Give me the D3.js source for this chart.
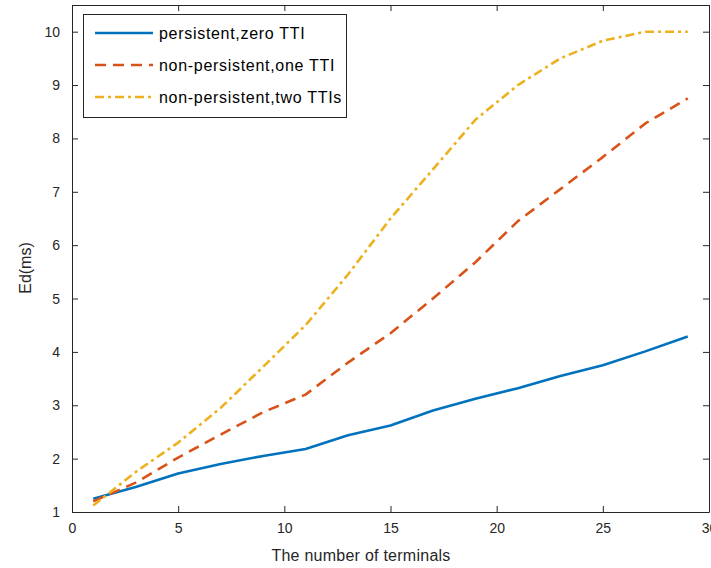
<!DOCTYPE html>
<html>
<head>
<meta charset="utf-8">
<script src="https://cdn.jsdelivr.net/npm/d3@7/dist/d3.min.js"></script>
<style>
  html, body { margin: 0; padding: 0; background: #fff; }
  svg { display: block; font-family: "Liberation Sans", Arial, sans-serif; }
</style>
</head>
<body>
<svg id="chart" width="711" height="568"></svg>
<script>
// Number of terminals (x) and end-to-end delay in ms for each scheme
const terminals = [1, 3, 5, 7, 9, 11, 13, 15, 17, 19, 21, 23, 25, 27, 29];
const persistentZero = [1.25, 1.47, 1.72, 1.90, 2.05, 2.18, 2.44, 2.62, 2.90, 3.12, 3.32, 3.55, 3.75, 4.01, 4.29];
const nonPersistentOne = [1.20, 1.55, 2.02, 2.45, 2.87, 3.20, 3.80, 4.35, 5.00, 5.68, 6.45, 7.05, 7.65, 8.28, 8.75];
const nonPersistentTwo = [1.12, 1.75, 2.30, 2.95, 3.72, 4.50, 5.45, 6.50, 7.42, 8.35, 9.00, 9.50, 9.83, 10.0, 10.0];
const seriesNames = ["persistent,zero TTI", "non-persistent,one TTI", "non-persistent,two TTIs"];
const xTicks = [0, 5, 10, 15, 20, 25, 30];
const yTicks = [1, 2, 3, 4, 5, 6, 7, 8, 9, 10];

const svg = d3.select("#chart");
const plot = { left: 72, right: 709, top: 5, bottom: 512 };
const axisColor = "#262626";

const x = d3.scaleLinear().domain([0, 30]).range([plot.left, plot.right]);
const y = d3.scaleLinear().domain([1, 10.5]).range([plot.bottom, plot.top]);

const series = [
  { name: seriesNames[0], values: persistentZero, color: "#0072BD", dash: null },
  { name: seriesNames[1], values: nonPersistentOne, color: "#D95319", dash: "11,7" },
  { name: seriesNames[2], values: nonPersistentTwo, color: "#EDB120", dash: "9,4,3,4" }
];

// Lines
const line = d3.line().x((d, i) => x(terminals[i])).y(d => y(d));
series.forEach(s => {
  svg.append("path")
    .datum(s.values)
    .attr("d", line)
    .attr("fill", "none")
    .attr("stroke", s.color)
    .attr("stroke-width", 2.6)
    .attr("stroke-dasharray", s.dash)
    .attr("stroke-linejoin", "round");
});

// Axes (ticks inward, box on all sides)
const tickLen = 6;
function styleAxis(g) {
  g.selectAll("path").attr("stroke", axisColor).attr("stroke-width", 1);
  g.selectAll("line").attr("stroke", axisColor).attr("stroke-width", 1);
  g.selectAll("text").attr("fill", axisColor).attr("font-size", 14)
    .attr("font-family", "'Liberation Sans', Arial, sans-serif");
}
svg.append("g").attr("transform", `translate(0,${plot.bottom})`)
  .call(d3.axisBottom(x).tickValues(xTicks).tickSizeInner(-tickLen).tickSizeOuter(0).tickPadding(11))
  .call(styleAxis);
svg.append("g").attr("transform", `translate(0,${plot.top})`)
  .call(d3.axisTop(x).tickValues(xTicks).tickSizeInner(-tickLen).tickSizeOuter(0).tickFormat(""))
  .call(styleAxis);
svg.append("g").attr("transform", `translate(${plot.left},0)`)
  .call(d3.axisLeft(y).tickValues(yTicks).tickSizeInner(-tickLen).tickSizeOuter(0).tickPadding(12))
  .call(styleAxis);
svg.append("g").attr("transform", `translate(${plot.right},0)`)
  .call(d3.axisRight(y).tickValues(yTicks).tickSizeInner(-tickLen).tickSizeOuter(0).tickFormat(""))
  .call(styleAxis);

// Axis titles
svg.append("text")
  .attr("x", 361).attr("y", 561)
  .attr("text-anchor", "middle").attr("font-size", 16).attr("letter-spacing", 0.25)
  .attr("fill", axisColor)
  .text("The number of terminals");
svg.append("text")
  .attr("transform", `translate(31,268) rotate(-90)`)
  .attr("text-anchor", "middle").attr("font-size", 16).attr("fill", axisColor)
  .text("Ed(ms)");

// Legend
const lg = svg.append("g");
lg.append("rect")
  .attr("x", 83.5).attr("y", 14.5).attr("width", 263).attr("height", 103)
  .attr("fill", "#fff").attr("stroke", axisColor).attr("stroke-width", 1);
series.forEach((s, i) => {
  const yy = 33 + i * 32;
  lg.append("line")
    .attr("x1", 95).attr("x2", 153).attr("y1", yy).attr("y2", yy)
    .attr("stroke", s.color).attr("stroke-width", 2.6)
    .attr("stroke-dasharray", s.dash);
  lg.append("text")
    .attr("x", 159).attr("y", yy + 5.5)
    .attr("font-size", 16).attr("letter-spacing", 0.7).attr("fill", "#000")
    .text(s.name);
});
</script>
</body>
</html>
